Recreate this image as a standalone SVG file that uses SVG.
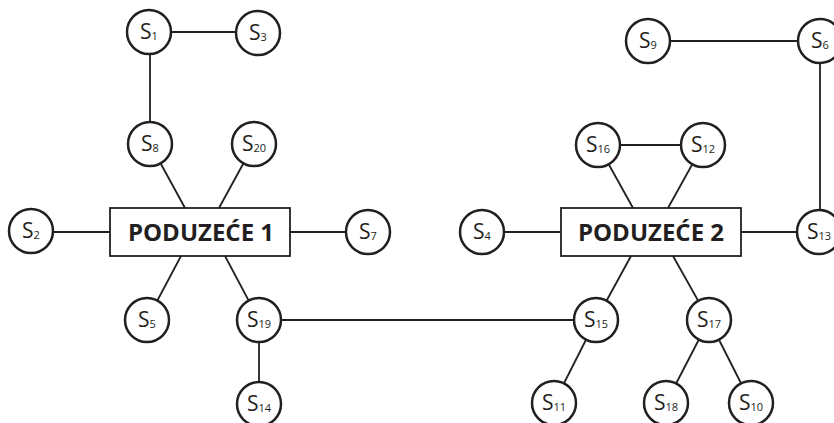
<svg xmlns="http://www.w3.org/2000/svg" width="834" height="423" viewBox="0 0 834 423">
<style>
.c{fill:#fff;stroke:#231f20;stroke-width:2.5}
.b{fill:#fff;stroke:#231f20;stroke-width:1.8}
.l{stroke:#231f20;stroke-width:1.8;fill:none}
.t{font-family:"Open Sans","Noto Sans",sans-serif;font-size:21px;fill:#231f20;text-anchor:middle}
.t tspan.s{font-size:11px}
.bt{font-family:"Open Sans","Noto Sans",sans-serif;font-size:24px;font-weight:bold;fill:#231f20;text-anchor:middle}
</style>
<rect width="834" height="423" fill="#fff"/>
<g id="connectors" class="l">
<line x1="149" y1="32" x2="258" y2="32"/>
<line x1="150" y1="32" x2="150" y2="144"/>
<line x1="150" y1="144" x2="185" y2="208"/>
<line x1="254" y1="144" x2="219" y2="208"/>
<line x1="31" y1="232" x2="110" y2="232"/>
<line x1="290" y1="232" x2="368" y2="232"/>
<line x1="181" y1="256" x2="147" y2="320"/>
<line x1="225" y1="256" x2="259" y2="320"/>
<line x1="259" y1="320" x2="259" y2="403"/>
<line x1="259" y1="320" x2="596" y2="320"/>
<line x1="482" y1="232" x2="561" y2="232"/>
<line x1="741" y1="232" x2="819" y2="232"/>
<line x1="598" y1="145" x2="633" y2="208"/>
<line x1="703" y1="145" x2="668" y2="208"/>
<line x1="598" y1="145" x2="703" y2="145"/>
<line x1="631" y1="256" x2="596" y2="320"/>
<line x1="673" y1="256" x2="709" y2="320"/>
<line x1="596" y1="320" x2="554" y2="403"/>
<line x1="709" y1="320" x2="666" y2="403"/>
<line x1="709" y1="320" x2="751" y2="403"/>
<line x1="648" y1="41" x2="820" y2="41"/>
<line x1="820" y1="41" x2="820" y2="232"/>
</g>
<g id="box1"><rect class="b" x="110" y="208" width="180" height="48"/><text class="bt" x="201" y="241">PODUZEĆE 1</text></g>
<g id="box2"><rect class="b" x="561" y="208" width="180" height="48"/><text class="bt" x="651" y="241">PODUZEĆE 2</text></g>
<g id="S1"><circle class="c" cx="149" cy="32" r="22"/><text class="t" x="149" y="39">S<tspan class="s" dy="1">1</tspan></text></g>
<g id="S3"><circle class="c" cx="258" cy="33" r="22"/><text class="t" x="258" y="40">S<tspan class="s" dy="1">3</tspan></text></g>
<g id="S8"><circle class="c" cx="150" cy="144" r="22"/><text class="t" x="150" y="151">S<tspan class="s" dy="1">8</tspan></text></g>
<g id="S20"><circle class="c" cx="254" cy="144" r="22"/><text class="t" x="254" y="151">S<tspan class="s" dy="1">20</tspan></text></g>
<g id="S2"><circle class="c" cx="31" cy="231" r="22"/><text class="t" x="31" y="238">S<tspan class="s" dy="1">2</tspan></text></g>
<g id="S7"><circle class="c" cx="368" cy="232" r="22"/><text class="t" x="368" y="239">S<tspan class="s" dy="1">7</tspan></text></g>
<g id="S5"><circle class="c" cx="147" cy="320" r="22"/><text class="t" x="147" y="327">S<tspan class="s" dy="1">5</tspan></text></g>
<g id="S19"><circle class="c" cx="259" cy="320" r="22"/><text class="t" x="259" y="327">S<tspan class="s" dy="1">19</tspan></text></g>
<g id="S14"><circle class="c" cx="259" cy="404" r="22"/><text class="t" x="259" y="411">S<tspan class="s" dy="1">14</tspan></text></g>
<g id="S4"><circle class="c" cx="482" cy="232" r="22"/><text class="t" x="482" y="239">S<tspan class="s" dy="1">4</tspan></text></g>
<g id="S13"><circle class="c" cx="819" cy="232" r="22"/><text class="t" x="819" y="239">S<tspan class="s" dy="1">13</tspan></text></g>
<g id="S16"><circle class="c" cx="598" cy="145" r="22"/><text class="t" x="598" y="152">S<tspan class="s" dy="1">16</tspan></text></g>
<g id="S12"><circle class="c" cx="703" cy="145" r="22"/><text class="t" x="703" y="152">S<tspan class="s" dy="1">12</tspan></text></g>
<g id="S15"><circle class="c" cx="596" cy="320" r="22"/><text class="t" x="596" y="327">S<tspan class="s" dy="1">15</tspan></text></g>
<g id="S17"><circle class="c" cx="709" cy="320" r="22"/><text class="t" x="709" y="327">S<tspan class="s" dy="1">17</tspan></text></g>
<g id="S11"><circle class="c" cx="554" cy="403" r="22"/><text class="t" x="554" y="410">S<tspan class="s" dy="1">11</tspan></text></g>
<g id="S18"><circle class="c" cx="666" cy="403" r="22"/><text class="t" x="666" y="410">S<tspan class="s" dy="1">18</tspan></text></g>
<g id="S10"><circle class="c" cx="751" cy="403" r="22"/><text class="t" x="751" y="410">S<tspan class="s" dy="1">10</tspan></text></g>
<g id="S9"><circle class="c" cx="648" cy="41" r="22"/><text class="t" x="648" y="48">S<tspan class="s" dy="1">9</tspan></text></g>
<g id="S6"><circle class="c" cx="820" cy="41" r="22"/><text class="t" x="820" y="48">S<tspan class="s" dy="1">6</tspan></text></g>
</svg>
